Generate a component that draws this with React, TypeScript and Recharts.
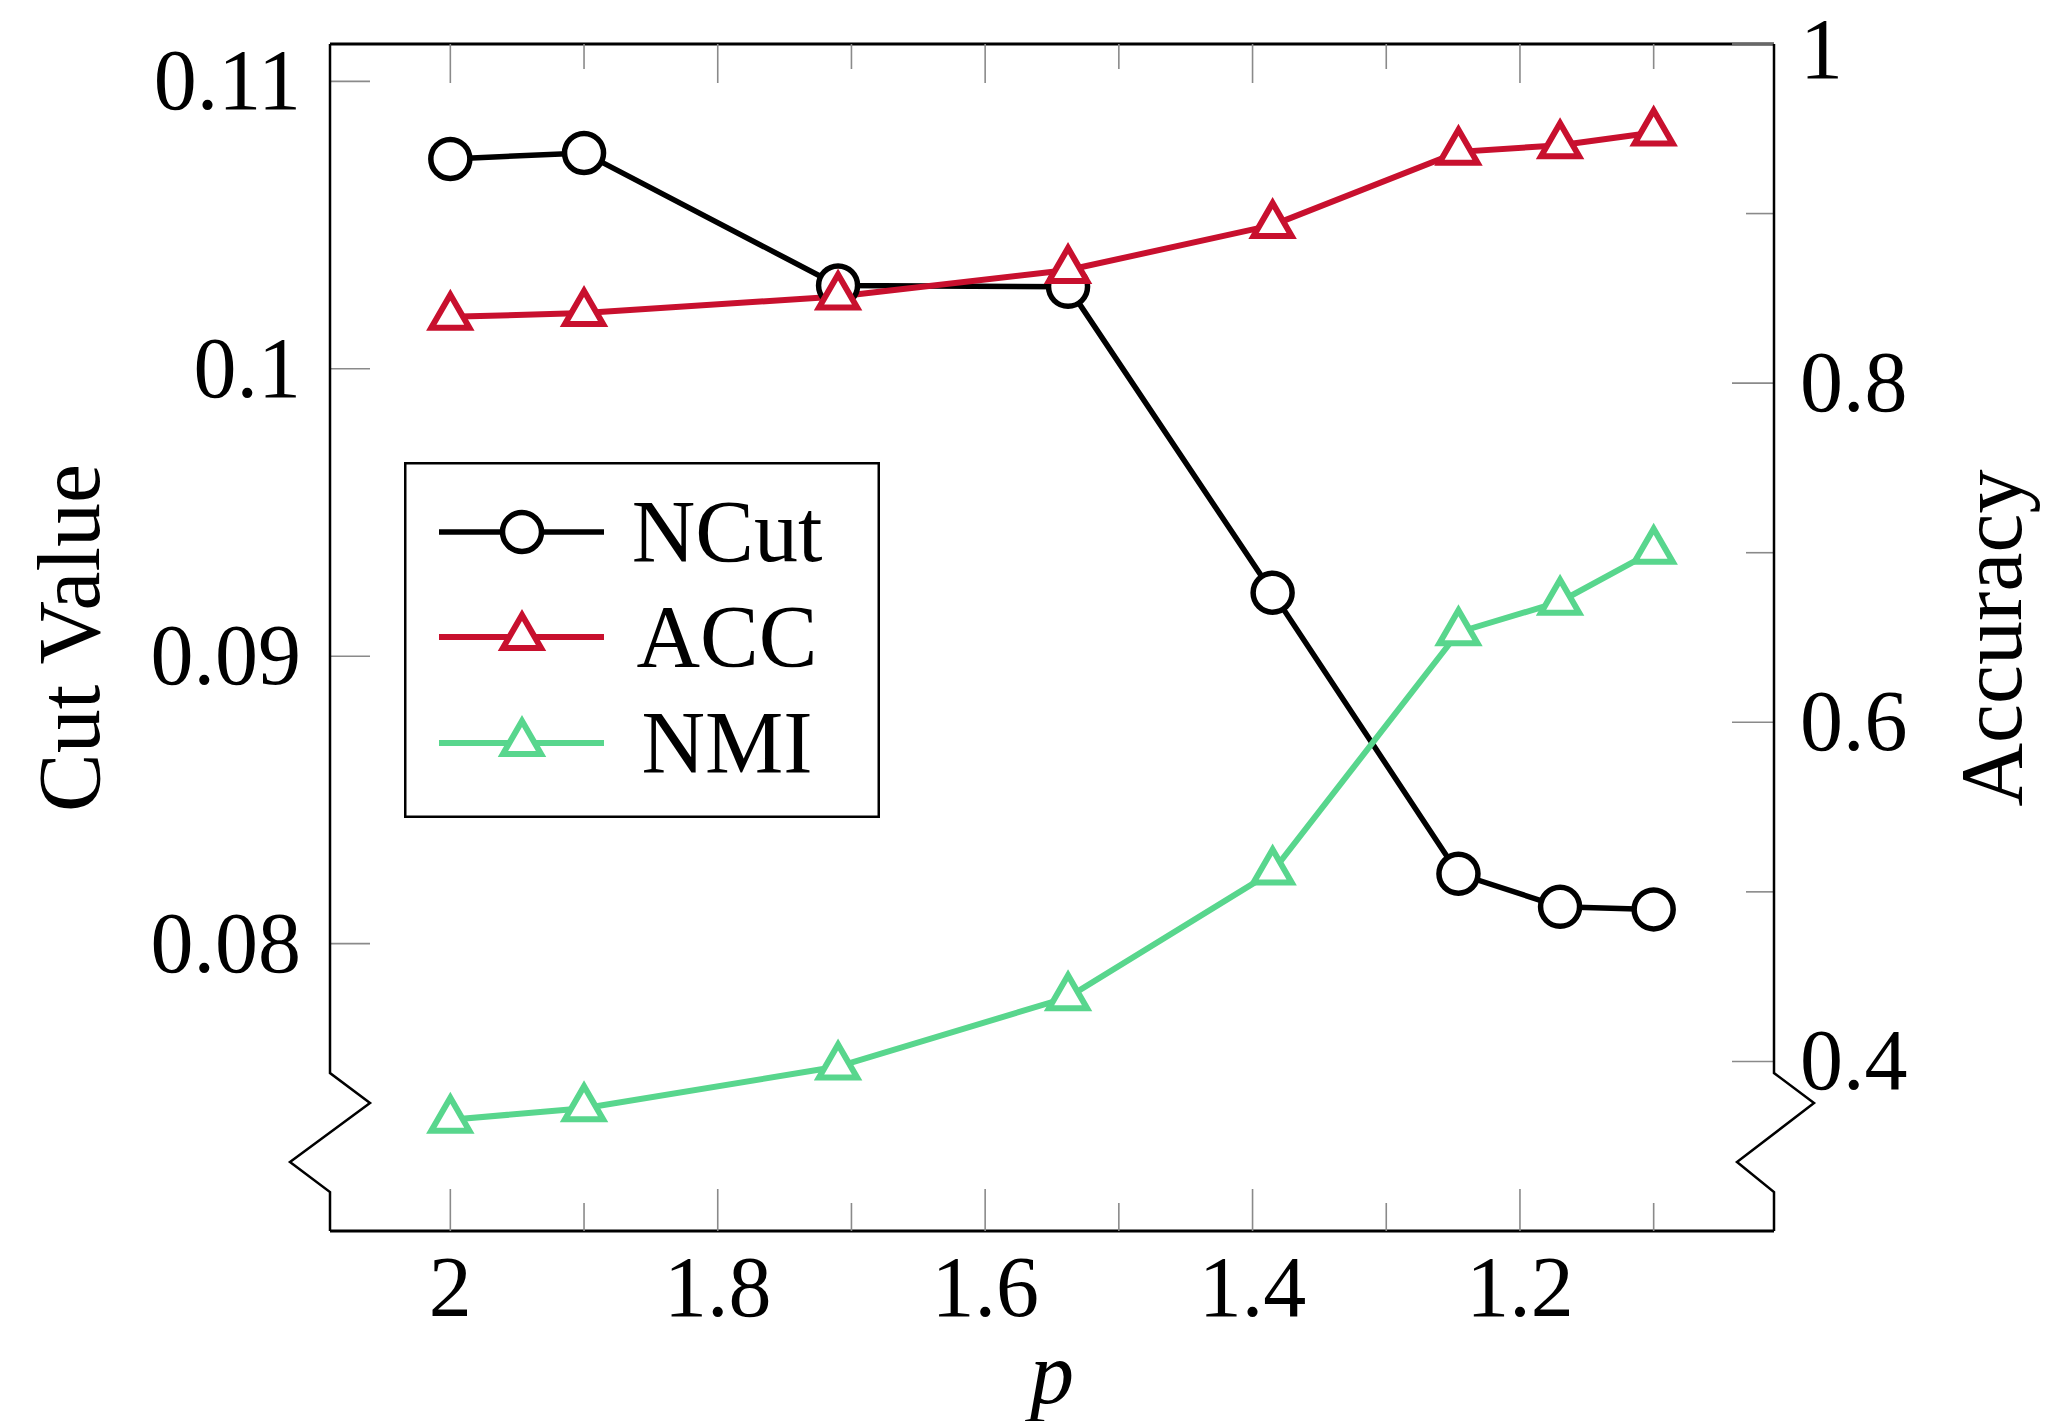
import React from 'react';
import { LineChart, Line, XAxis, YAxis, Legend } from 'recharts';

// ---- data ----
const P_VALUES = [2, 1.9, 1.71, 1.538, 1.385, 1.246, 1.17, 1.1];
const NCUT = [0.1073, 0.10751, 0.1029, 0.10285, 0.09221, 0.08243, 0.08128, 0.08119];
const ACC = [0.8391, 0.8413, 0.8511, 0.8667, 0.8932, 0.9364, 0.9403, 0.9478];
const NMI = [0.3656, 0.3724, 0.397, 0.4378, 0.512, 0.6531, 0.6711, 0.7011];

const X_TICKS = [2, 1.9, 1.8, 1.7, 1.6, 1.5, 1.4, 1.3, 1.2, 1.1];
const X_MAJOR_LABELS: Record<string, string> = { '2.0': '2', '1.8': '1.8', '1.6': '1.6', '1.4': '1.4', '1.2': '1.2' };
const LEFT_TICKS = [0.08, 0.09, 0.1, 0.11];
const LEFT_LABELS = ['0.08', '0.09', '0.1', '0.11'];
const RIGHT_TICKS = [0.4, 0.5, 0.6, 0.7, 0.8, 0.9, 1.0];
const RIGHT_MAJOR_LABELS: Record<string, string> = { '0.4': '0.4', '0.6': '0.6', '0.8': '0.8', '1.0': '1' };

const SERIES_NAMES = ['NCut', 'ACC', 'NMI'];
const COLORS = ['#000000', '#C8102E', '#58D68D'];

const data = P_VALUES.map((p, i) => ({ p, ncut: NCUT[i], acc: ACC[i], nmi: NMI[i] }));

// ---- layout ----
const W = 2061;
const H = 1413;
const PLOT_L = 322;
const PLOT_R = 1766;
const PLOT_T = 36;
const PLOT_B = 1223;
const FONT = '"Liberation Serif", "Times New Roman", serif';
const FS = 86;
const FS_TITLE = 88;
const TICK_COLOR = '#8a8a8a';
const MARK_R = 22;

const BottomTick = (props: any) => {
  const { x, y, payload } = props;
  const key = Number(payload.value).toFixed(1);
  const label = X_MAJOR_LABELS[key];
  const len = label ? 42 : 28;
  return (
    <g>
      <line x1={x} x2={x} y1={y} y2={y - len} stroke={TICK_COLOR} strokeWidth={1.6} />
      {label && (
        <text x={x} y={y + 85} textAnchor="middle" fontFamily={FONT} fontSize={FS} fill="#000">
          {label}
        </text>
      )}
    </g>
  );
};

const TopTick = (props: any) => {
  const { x, y, payload } = props;
  const key = Number(payload.value).toFixed(1);
  const len = X_MAJOR_LABELS[key] ? 39 : 25;
  return <line x1={x} x2={x} y1={y} y2={y + len} stroke={TICK_COLOR} strokeWidth={1.6} />;
};

const LeftTick = (props: any) => {
  const { x, y, index } = props;
  return (
    <g>
      <line x1={x} x2={x + 40} y1={y} y2={y} stroke={TICK_COLOR} strokeWidth={1.6} />
      <text x={x - 29} y={y + 28} textAnchor="end" fontFamily={FONT} fontSize={FS} fill="#000">
        {LEFT_LABELS[index]}
      </text>
    </g>
  );
};

const RightTick = (props: any) => {
  const { x, y, payload } = props;
  const key = Number(payload.value).toFixed(1);
  const label = RIGHT_MAJOR_LABELS[key];
  const len = label ? 42 : 28;
  // keep the top label's text box inside the page
  const dy = key === '1.0' ? 34 : 28;
  return (
    <g>
      <line x1={x} x2={x - len} y1={y} y2={y} stroke={TICK_COLOR} strokeWidth={1.6} />
      {label && (
        <text x={x + 26} y={y + dy} textAnchor="start" fontFamily={FONT} fontSize={FS} fill="#000">
          {label}
        </text>
      )}
    </g>
  );
};

const CircleDot = (props: any) => {
  const { cx, cy, index } = props;
  if (cx == null || cy == null) return <g key={`c${index}`} />;
  return <circle key={`c${index}`} cx={cx} cy={cy} r={19.5} fill="#fff" stroke="#000" strokeWidth={5.5} />;
};

const makeTriangle = (color: string) => (props: any) => {
  const { cx, cy, index } = props;
  if (cx == null || cy == null) return <g key={`t${index}`} />;
  const r = MARK_R;
  const pts = `${cx},${cy - r} ${cx - 0.866 * r},${cy + 0.5 * r} ${cx + 0.866 * r},${cy + 0.5 * r}`;
  return <polygon key={`t${index}`} points={pts} fill="#fff" stroke={color} strokeWidth={6} strokeLinejoin="miter" />;
};

const LegendBox = () => {
  const rows = [70, 175, 281];
  return (
    <svg width={476} height={356} style={{ display: 'block', overflow: 'visible' }}>
      <rect x={1.25} y={1.25} width={473.5} height={353.5} fill="#fff" stroke="#000" strokeWidth={2.5} />
      {SERIES_NAMES.map((name, i) => {
        const y = rows[i];
        const c = COLORS[i];
        const cx = 118;
        const r = MARK_R;
        return (
          <g key={name}>
            <line x1={35} x2={200} y1={y} y2={y} stroke={c} strokeWidth={i === 0 ? 5.5 : 6} />
            {i === 0 ? (
              <circle cx={cx} cy={y} r={19.5} fill="#fff" stroke={c} strokeWidth={5.5} />
            ) : (
              <polygon
                points={`${cx},${y - r} ${cx - 0.866 * r},${y + 0.5 * r} ${cx + 0.866 * r},${y + 0.5 * r}`}
                fill="#fff"
                stroke={c}
                strokeWidth={6}
              />
            )}
            <text x={323} y={y + 29} textAnchor="middle" fontFamily={FONT} fontSize={FS_TITLE} fill="#000">
              {name}
            </text>
          </g>
        );
      })}
    </svg>
  );
};

const leftPath = `M${PLOT_L},${PLOT_T} L${PLOT_L},${PLOT_B - 158} L${PLOT_L + 40},${PLOT_B - 128} L${PLOT_L - 40},${PLOT_B - 69} L${PLOT_L},${PLOT_B - 39} L${PLOT_L},${PLOT_B}`;
const rightPath = `M${PLOT_R},${PLOT_T} L${PLOT_R},${PLOT_B - 158} L${PLOT_R + 40},${PLOT_B - 128} L${PLOT_R - 37},${PLOT_B - 69} L${PLOT_R},${PLOT_B - 39} L${PLOT_R},${PLOT_B}`;

export default function App() {
  return (
    <div style={{ position: 'relative', width: W, height: H }}>
      <style>{'html,body{overflow:hidden;} .recharts-surface{overflow:visible;}'}</style>
      <LineChart
        width={W}
        height={H}
        data={data}
        margin={{ top: 0, right: 0, bottom: 0, left: 0 }}
        style={{ fontFamily: FONT }}
      >
        <XAxis
          xAxisId="bottom"
          dataKey="p"
          type="number"
          domain={[1.01, 2.09]}
          reversed
          allowDataOverflow
          ticks={X_TICKS}
          interval={0}
          height={H - PLOT_B}
          tickSize={0}
          tickMargin={0}
          tickLine={false}
          tick={<BottomTick />}
          axisLine={{ stroke: '#000', strokeWidth: 3 }}
          label={{
            content: () => (
              <text
                x={(PLOT_L + PLOT_R) / 2}
                y={1395}
                textAnchor="middle"
                fontFamily={FONT}
                fontStyle="italic"
                fontSize={FS_TITLE}
                fill="#000"
              >
                p
              </text>
            ),
          }}
        />
        <XAxis
          xAxisId="top"
          dataKey="p"
          type="number"
          orientation="top"
          domain={[1.01, 2.09]}
          reversed
          allowDataOverflow
          ticks={X_TICKS}
          interval={0}
          height={PLOT_T}
          tickSize={0}
          tickMargin={0}
          tickLine={false}
          tick={<TopTick />}
          axisLine={{ stroke: '#000', strokeWidth: 3 }}
        />
        <YAxis
          yAxisId="left"
          type="number"
          domain={[0.07, 0.1113]}
          allowDataOverflow
          ticks={LEFT_TICKS}
          interval={0}
          width={PLOT_L}
          tickSize={0}
          tickMargin={0}
          tickLine={false}
          axisLine={false}
          tick={<LeftTick />}
          label={{
            content: () => (
              <text
                x={91}
                y={630}
                transform={`rotate(-90, 91, 630)`}
                textAnchor="middle"
                fontFamily={FONT}
                fontSize={FS_TITLE}
                fill="#000"
              >
                Cut Value
              </text>
            ),
          }}
        />
        <YAxis
          yAxisId="right"
          orientation="right"
          type="number"
          domain={[0.3, 1.0]}
          allowDataOverflow
          ticks={RIGHT_TICKS}
          interval={0}
          width={W - PLOT_R}
          tickSize={0}
          tickMargin={0}
          tickLine={false}
          axisLine={false}
          tick={<RightTick />}
          label={{
            content: () => (
              <text
                x={2013}
                y={630}
                transform={`rotate(-90, 2013, 630)`}
                textAnchor="middle"
                fontFamily={FONT}
                fontSize={FS_TITLE}
                fill="#000"
              >
                Accuracy
              </text>
            ),
          }}
        />
        <Line
          xAxisId="bottom"
          yAxisId="left"
          dataKey="ncut"
          name="NCut"
          stroke={COLORS[0]}
          strokeWidth={5.5}
          dot={CircleDot}
          activeDot={false}
          isAnimationActive={false}
        />
        <Line
          xAxisId="bottom"
          yAxisId="right"
          dataKey="acc"
          name="ACC"
          stroke={COLORS[1]}
          strokeWidth={6}
          dot={makeTriangle(COLORS[1])}
          activeDot={false}
          isAnimationActive={false}
        />
        <Line
          xAxisId="bottom"
          yAxisId="right"
          dataKey="nmi"
          name="NMI"
          stroke={COLORS[2]}
          strokeWidth={6}
          dot={makeTriangle(COLORS[2])}
          activeDot={false}
          isAnimationActive={false}
        />
        <Legend
          layout="vertical"
          align="center"
          verticalAlign="middle"
          content={() => <LegendBox />}
          wrapperStyle={{ left: 396, top: 454, width: 476, height: 356, right: 'auto', bottom: 'auto' }}
        />
      </LineChart>
      <svg
        width={W}
        height={H}
        style={{ position: 'absolute', left: 0, top: 0, pointerEvents: 'none', overflow: 'visible' }}
      >
        <path d={leftPath} fill="none" stroke="#000" strokeWidth={2.5} strokeLinejoin="miter" />
        <path d={rightPath} fill="none" stroke="#000" strokeWidth={2.5} strokeLinejoin="miter" />
      </svg>
    </div>
  );
}
